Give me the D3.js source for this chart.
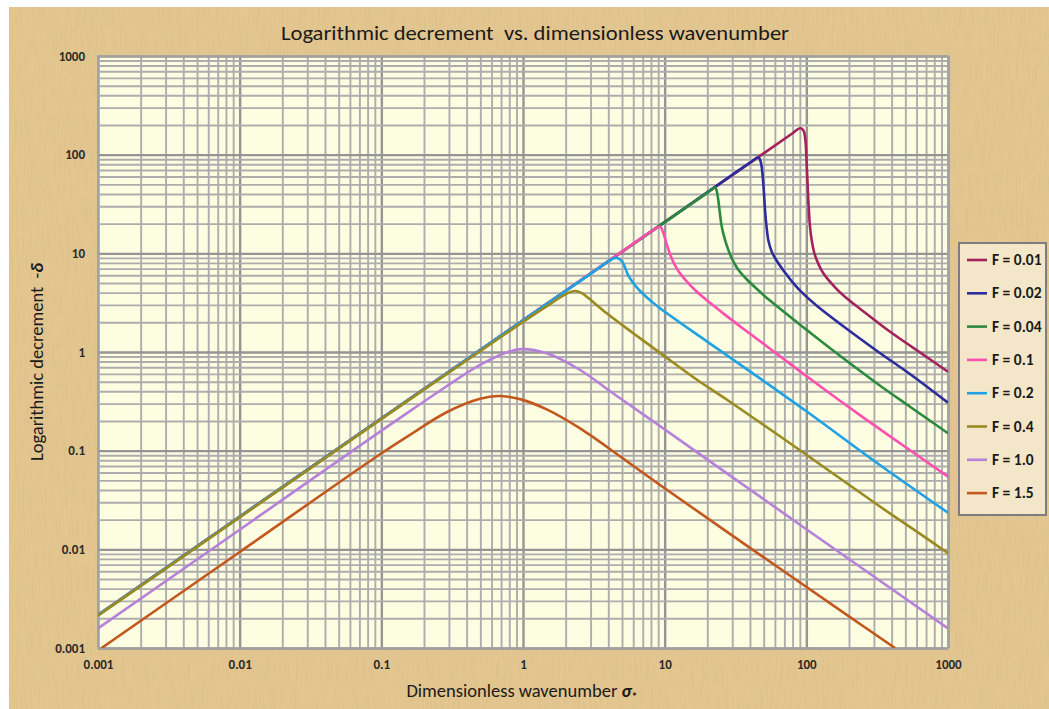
<!DOCTYPE html>
<html><head><meta charset="utf-8">
<script src="https://cdn.jsdelivr.net/npm/d3@7"></script>
<style>html,body{margin:0;padding:0;background:#fff;} svg{display:block;} text{white-space:pre;}</style>
</head><body>
<svg id="chart" width="1049" height="709"></svg>
<script>
// ---------------- data ----------------
const decadeValues = [0.001, 0.01, 0.1, 1, 10, 100, 1000];
const xTickLabels = ["0.001", "0.01", "0.1", "1", "10", "100", "1000"];
const yTickLabels = ["0.001", "0.01", "0.1", "1", "10", "100", "1000"];
const seriesNames = ["F = 0.01", "F = 0.02", "F = 0.04", "F = 0.1", "F = 0.2", "F = 0.4", "F = 1.0", "F = 1.5"];
const seriesColors = ["#a3215c", "#2c2c9c", "#2b8a3e", "#ff4fae", "#1ea2e4", "#9a8a20", "#b681d8", "#c2581e"];

// [sigma, delta] pairs
const F001 = [[0.001,0.00216],[0.01,0.0214],[0.1,0.212],[1,2.09],[10,20.7],[50,103],[80,165],[90.2,185],[95,178],[98,150],[101,70],[103.3,34.7],[106,19],[109.1,13.6],[113,10.5],[118.4,8.55],[131.8,6.27],[160,4.5],[192.7,3.5],[239,2.75],[369,1.7],[569,1.1],[1000,0.631]];
const F002 = [[0.001,0.00216],[0.01,0.0214],[0.1,0.212],[1,2.09],[10,20.7],[40,83],[45.8,94],[47.3,88],[48.6,72],[50,45],[51.1,27.5],[52.5,18],[53.9,13.6],[57,10.4],[61.8,8.4],[70,6.5],[80.9,5.0],[95,3.9],[118.4,2.95],[192.7,1.72],[313.8,1.03],[569,0.565],[1000,0.306]];
const F004 = [[0.001,0.00216],[0.01,0.0214],[0.1,0.212],[1,2.09],[10,20.7],[20,41],[22.7,46.7],[23.3,43],[23.9,34.7],[25.3,18.6],[26.7,13.6],[28.1,10.9],[29.7,8.98],[31.5,7.63],[33.5,6.65],[37.9,5.46],[45,4.32],[55.4,3.32],[95.2,1.78],[163.8,0.97],[313.8,0.483],[539,0.279],[1000,0.15]];
const F01  = [[0.001,0.00216],[0.01,0.0214],[0.1,0.212],[1,2.09],[5,10.4],[8.3,17.2],[9.27,18.6],[9.8,16],[10.3,12.6],[11.0,9.5],[11.8,7.6],[12.8,6.3],[14.3,5.2],[16.5,4.2],[20.9,3.15],[27,2.35],[35.9,1.72],[55.4,1.08],[106.2,0.535],[239,0.229],[458,0.119],[1000,0.0545]];
const F02  = [[0.001,0.00216],[0.01,0.0214],[0.1,0.212],[1,2.09],[3,6.2],[4.2,8.65],[4.58,9.03],[5.0,8.3],[5.5,6.1],[6.0,5.0],[6.6,4.25],[7.3,3.7],[8.2,3.2],[9.27,2.78],[17.8,1.43],[27.4,0.93],[99,0.254],[313.8,0.0755],[1000,0.0235]];
const F04  = [[0.001,0.00213],[0.01,0.0211],[0.1,0.209],[1,2.02],[1.6,3.15],[2.0,3.85],[2.33,4.15],[2.6,3.95],[2.82,3.63],[3.9,2.47],[6.0,1.55],[9.27,0.98],[17,0.52],[27.4,0.33],[99,0.092],[313.8,0.0286],[707,0.0129],[1000,0.00912]];
const F10  = [[0.001,0.00158],[0.01,0.0158],[0.0979,0.156],[0.168,0.265],[0.289,0.45],[0.497,0.74],[0.767,0.99],[0.979,1.07],[1.47,0.97],[2.53,0.657],[4.34,0.38],[7.47,0.22],[12.8,0.128],[30,0.054],[100.6,0.0159],[1000,0.00158]];
const F15  = [[0.00106,0.001],[0.01,0.0094],[0.0979,0.092],[0.168,0.152],[0.289,0.245],[0.497,0.335],[0.669,0.358],[0.952,0.333],[1.47,0.262],[2.53,0.168],[5.1,0.083],[9.27,0.0449],[47.1,0.0088],[200,0.00209],[422.7,0.001]];
const seriesData = [F001, F002, F004, F01, F02, F04, F10, F15];

// ---------------- layout ----------------
const svg = d3.select("#chart");
const W = 1049, H = 709;
const plot = {left: 98, right: 948, top: 56, bottom: 648};
const fontFam = "Carlito, Lato, 'Open Sans', sans-serif";

const defs = svg.append("defs");
const filt = defs.append("filter").attr("id", "paper").attr("x", 0).attr("y", 0).attr("width", "100%").attr("height", "100%");
filt.append("feTurbulence").attr("type", "fractalNoise").attr("baseFrequency", "0.9 0.035").attr("numOctaves", 2).attr("seed", 4).attr("result", "n");
filt.append("feColorMatrix").attr("in", "n").attr("type", "matrix")
  .attr("values", "0 0 0 0 0.62  0 0 0 0 0.47  0 0 0 0 0.22  1.4 0 0 0 -0.55");
defs.append("clipPath").attr("id", "plotclip").append("rect")
  .attr("x", plot.left).attr("y", plot.top).attr("width", plot.right - plot.left).attr("height", plot.bottom - plot.top);

// background
svg.append("rect").attr("x", 0).attr("y", 0).attr("width", W).attr("height", H).attr("fill", "#ffffff");
svg.append("rect").attr("x", 9).attr("y", 7).attr("width", W - 9).attr("height", H - 7).attr("fill", "#e3c690");
svg.append("rect").attr("x", 9).attr("y", 7).attr("width", W - 9).attr("height", H - 7).attr("filter", "url(#paper)").attr("opacity", 0.5);

// scales
const x = d3.scaleLog().domain([0.001, 1000]).range([plot.left, plot.right]);
const y = d3.scaleLog().domain([0.001, 1000]).range([plot.bottom, plot.top]);

// plot area
svg.append("rect").attr("x", plot.left).attr("y", plot.top)
  .attr("width", plot.right - plot.left).attr("height", plot.bottom - plot.top)
  .attr("fill", "#fdfde2");

const isMajor = v => Math.abs(Math.log10(v) - Math.round(Math.log10(v))) < 1e-9;

// grid
const gx = svg.append("g").attr("transform", `translate(0,${plot.bottom})`)
  .call(d3.axisBottom(x).tickValues(x.ticks()).tickSize(-(plot.bottom - plot.top)).tickFormat(""));
gx.select(".domain").remove();
gx.selectAll(".tick line").attr("stroke", d => isMajor(d) ? "#959595" : "#adadad").attr("stroke-width", d => isMajor(d) ? 2.4 : 1.9);

const gy = svg.append("g").attr("transform", `translate(${plot.left},0)`)
  .call(d3.axisLeft(y).tickValues(y.ticks()).tickSize(-(plot.right - plot.left)).tickFormat(""));
gy.select(".domain").remove();
gy.selectAll(".tick line").attr("stroke", d => isMajor(d) ? "#959595" : "#adadad").attr("stroke-width", d => isMajor(d) ? 2.4 : 1.9);

svg.append("rect").attr("x", plot.left).attr("y", plot.top)
  .attr("width", plot.right - plot.left).attr("height", plot.bottom - plot.top)
  .attr("fill", "none").attr("stroke", "#a5a5a5").attr("stroke-width", 1.5);

// axes labels
const ax = svg.append("g").attr("transform", `translate(0,${plot.bottom})`)
  .call(d3.axisBottom(x).tickValues(decadeValues).tickSize(0).tickPadding(12).tickFormat((d, i) => xTickLabels[i]));
ax.select(".domain").remove();
ax.selectAll("text").attr("font-family", fontFam).attr("font-size", 13).attr("font-weight", 600).attr("fill", "#2a2a2a");

const ay = svg.append("g").attr("transform", `translate(${plot.left},0)`)
  .call(d3.axisLeft(y).tickValues(decadeValues).tickSize(0).tickPadding(13).tickFormat((d, i) => yTickLabels[i]));
ay.select(".domain").remove();
ay.selectAll("text").attr("font-family", fontFam).attr("font-size", 13).attr("font-weight", 600).attr("fill", "#2a2a2a");

// curves
const line = d3.line().x(d => x(d[0])).y(d => y(d[1])).curve(d3.curveCatmullRom.alpha(0.5));
const cg = svg.append("g").attr("clip-path", "url(#plotclip)");
seriesData.forEach((s, i) => {
  cg.append("path").datum(s).attr("d", line).attr("fill", "none")
    .attr("stroke", seriesColors[i]).attr("stroke-width", 2.6).attr("stroke-linejoin", "round");
});

// title
svg.append("text").attr("x", 535).attr("y", 40).attr("text-anchor", "middle")
  .attr("font-family", fontFam).attr("font-size", 20.5).attr("fill", "#1a1a1a")
  .attr("textLength", 508).attr("lengthAdjust", "spacingAndGlyphs")
  .text("Logarithmic decrement  vs. dimensionless wavenumber");

// x title
const xt = svg.append("text").attr("x", 522).attr("y", 697).attr("text-anchor", "middle")
  .attr("font-family", fontFam).attr("font-size", 18.5).attr("fill", "#1a1a1a");
xt.append("tspan").text("Dimensionless wavenumber ");
xt.append("tspan").attr("font-style", "italic").attr("font-weight", "bold").text("σ");
xt.append("tspan").attr("font-weight", "bold").attr("font-size", 12).attr("dy", 4).text("*");

// y title
const yt = svg.append("text").attr("transform", "translate(43,362) rotate(-90)").attr("text-anchor", "middle")
  .attr("font-family", fontFam).attr("font-size", 18.5).attr("fill", "#1a1a1a");
yt.append("tspan").text("Logarithmic decrement  -");
yt.append("tspan").attr("font-style", "italic").attr("font-weight", "bold").text("δ");

// legend
const lg = svg.append("g");
lg.append("rect").attr("x", 959).attr("y", 243).attr("width", 87).attr("height", 272)
  .attr("fill", "#f4e6c8").attr("stroke", "#7d7d7d").attr("stroke-width", 2);
const li = lg.selectAll("g.item").data(seriesNames).enter().append("g")
  .attr("transform", (d, i) => `translate(967,${260 + i * 33.3})`);
li.append("line").attr("x1", 0).attr("x2", 20).attr("y1", 0).attr("y2", 0)
  .attr("stroke", (d, i) => seriesColors[i]).attr("stroke-width", 2.6);
li.append("text").attr("x", 25).attr("y", 5).attr("font-family", fontFam).attr("font-size", 15.5)
  .attr("font-weight", 600).attr("fill", "#1a1a1a").text(d => d);
</script>
</body></html>
